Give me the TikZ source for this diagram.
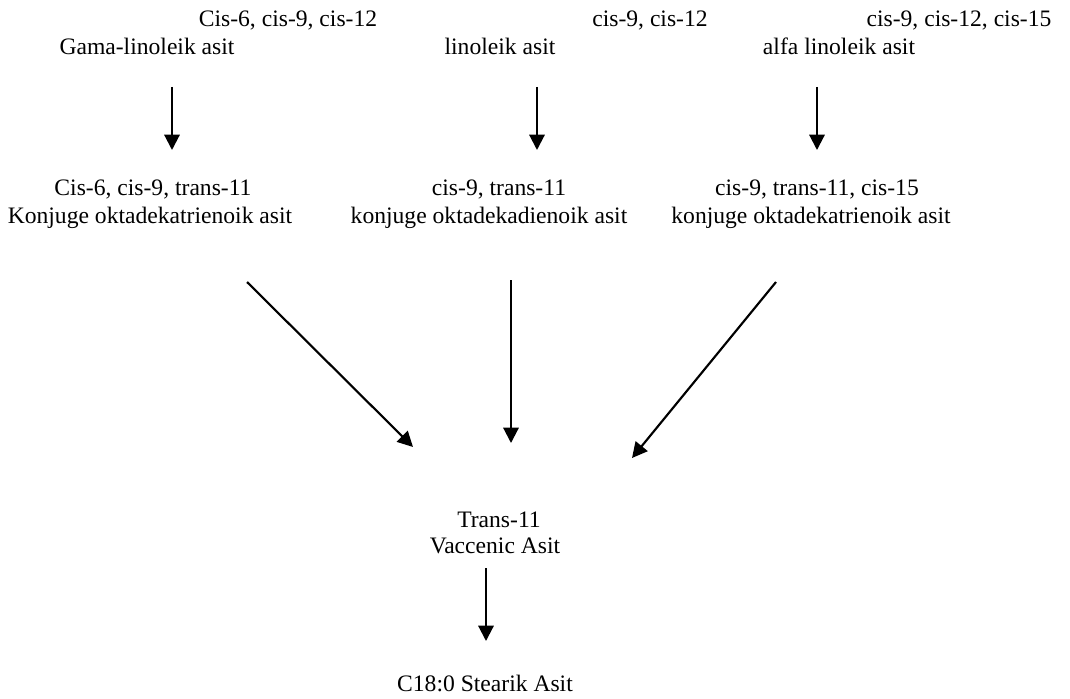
\documentclass[tikz,border=0pt]{standalone}
\usepackage{fontspec}
\setmainfont{Liberation Serif}
\usetikzlibrary{arrows.meta}

\begin{document}
\begin{tikzpicture}[x=0.75pt,y=-0.75pt,
  lbl/.style={anchor=base, inner sep=0pt, font=\fontsize{17.7}{21}\selectfont},
  flow/.style={-{Triangle[length=11.5pt,width=11.5pt]}, line width=1.6pt}]

\useasboundingbox (0,0) rectangle (1070,699);

% starting acids
\node [lbl] (gamaA) at (288,27) {Cis-6, cis-9, cis-12};
\node [lbl] (gamaB) at (147,55) {Gama-linoleik asit};
\node [lbl] (linA) at (650,27) {cis-9, cis-12};
\node [lbl] (linB) at (500,55) {linoleik asit};
\node [lbl] (alfaA) at (959,27) {cis-9, cis-12, cis-15};
\node [lbl] (alfaB) at (839,55) {alfa linoleik asit};

% conjugated intermediates
\node [lbl] (cgamaA) at (153,195) {Cis-6, cis-9, trans-11};
\node [lbl] (cgamaB) at (150,223) {Konjuge oktadekatrienoik asit};
\node [lbl] (clinA) at (499,195) {cis-9, trans-11};
\node [lbl] (clinB) at (489,223) {konjuge oktadekadienoik asit};
\node [lbl] (calfaA) at (817,195) {cis-9, trans-11, cis-15};
\node [lbl] (calfaB) at (811,223) {konjuge oktadekatrienoik asit};

% vaccenic and stearic
\node [lbl] (vacA) at (499,527) {Trans-11};
\node [lbl] (vacB) at (495,553) {Vaccenic Asit};
\node [lbl] (stear) at (485,691) {C18:0 Stearik Asit};

% arrow ends
\coordinate (g1) at (172,87);  \coordinate (g2) at (172,150);
\coordinate (l1) at (537,87);  \coordinate (l2) at (537,150);
\coordinate (a1) at (817,87);  \coordinate (a2) at (817,150);
\coordinate (cg1) at (247,282); \coordinate (cg2) at (413,447);
\coordinate (cl1) at (511,280); \coordinate (cl2) at (511,443);
\coordinate (ca1) at (776,282); \coordinate (ca2) at (632,458);
\coordinate (v1) at (486,568); \coordinate (v2) at (486,641);

\draw [flow] (g1) -- (g2);
\draw [flow] (l1) -- (l2);
\draw [flow] (a1) -- (a2);
\draw [flow] (cg1) -- (cg2);
\draw [flow] (cl1) -- (cl2);
\draw [flow] (ca1) -- (ca2);
\draw [flow] (v1) -- (v2);

\end{tikzpicture}
\end{document}
